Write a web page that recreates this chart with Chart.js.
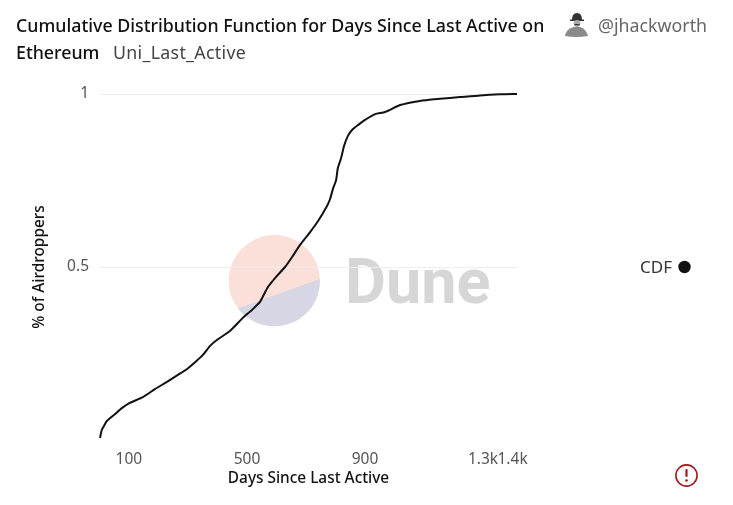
<!DOCTYPE html>
<html>
<head>
<meta charset="utf-8">
<title>CDF</title>
<script src="https://cdn.jsdelivr.net/npm/chart.js@4"></script>
<style>
    body { margin: 0; background: #fff; font-family: "Noto Sans", sans-serif; }
    #wrap { position: relative; width: 733px; height: 505px; overflow: hidden; }
    #wrap > * { position: absolute; }
    #watermark { left: 0; top: 0; }
    #chart { left: 0; top: 0; }
    .title { font-size: 17.8px; line-height: 20px; font-weight: 500; color: #111; white-space: nowrap; }
    .sub { font-size: 17.8px; line-height: 20px; color: #444; white-space: nowrap; }
</style>
</head>
<body>
<div id="wrap">
    <svg id="watermark" width="733" height="505">
        <defs>
            <clipPath id="logo"><circle cx="274.3" cy="280.7" r="45.6"></circle></clipPath>
        </defs>
        <g clip-path="url(#logo)">
            <rect x="225" y="230" width="100" height="100" fill="#fbdfd9"></rect>
            <polygon points="225,313 320,279 330,279 330,330 225,330" fill="#d6d6e5"></polygon>
        </g>
        <text x="345" y="303" font-family="Roboto, sans-serif" font-weight="700" font-size="63" fill="#d6d6d6">Dune</text>
        <!-- avatar -->
        <path d="M572 20 Q572 13 577 13 Q582 13 582 20 Z" fill="#333"></path>
        <rect x="570" y="19.5" width="14" height="1.5" fill="#333"></rect>
        <circle cx="577" cy="23.5" r="3.4" fill="#aaa"></circle>
        <rect x="574.5" y="24" width="5" height="1.2" fill="#333"></rect>
        <path d="M565 36 Q566 29 574 27 L580 27 Q586 29 588 36 Q576 38 565 36 Z" fill="#8a8a8a"></path>
        <!-- warning icon -->
        <circle cx="686.5" cy="475.5" r="10.6" fill="none" stroke="#a11a1a" stroke-width="1.6"></circle>
        <rect x="685.4" y="469" width="2.2" height="8" rx="1" fill="#a11a1a"></rect>
        <circle cx="686.5" cy="480.5" r="1.3" fill="#a11a1a"></circle>
        <circle cx="684.5" cy="267" r="6.2" fill="#111"></circle>
    </svg>
    <canvas id="chart" width="733" height="505"></canvas>
    <div class="title" style="left:16px;top:15px">Cumulative Distribution Function for Days Since Last Active on</div>
    <div class="title" style="left:16px;top:42px">Ethereum</div>
    <div class="sub" style="left:113px;top:42px;letter-spacing:0.3px">Uni_Last_Active</div>
    <div class="sub" style="left:598px;top:15px;color:#666">@jhackworth</div>
    <div class="sub" style="left:640px;top:257px;font-size:17px;color:#333">CDF</div>
</div>
<script>
    const days = [2, 8, 15, 25, 53, 76, 103, 147, 188, 229, 266, 297, 324, 351, 375, 398, 442, 486, 517, 544, 571, 598, 629, 653, 680, 714, 741, 768, 781, 792, 802, 808, 819, 829, 842, 856, 876, 900, 934, 968, 1019, 1086, 1154, 1222, 1290, 1358, 1415];
    const cdf = [0.006, 0.029, 0.04, 0.055, 0.075, 0.092, 0.107, 0.124, 0.147, 0.168, 0.188, 0.205, 0.225, 0.246, 0.272, 0.289, 0.315, 0.353, 0.376, 0.399, 0.442, 0.471, 0.5, 0.529, 0.564, 0.601, 0.633, 0.671, 0.695, 0.728, 0.751, 0.786, 0.815, 0.85, 0.879, 0.896, 0.91, 0.925, 0.942, 0.948, 0.968, 0.98, 0.986, 0.991, 0.996, 0.999, 1];
    const xTicks = [100, 500, 900, 1300, 1400];
    const xTickLabels = ['100', '500', '900', '1.3k', '1.4k'];
    const yTicks = [0.5, 1];

    const tickFont = { family: '"Noto Sans", sans-serif', size: 15.5 };
    const axisTitleFont = { family: '"Noto Sans", sans-serif', size: 15.4, weight: '500' };

    new Chart(document.getElementById('chart'), {
        type: 'line',
        data: {
            datasets: [{
                label: 'CDF',
                data: days.map((d, i) => ({ x: d, y: cdf[i] })),
                borderColor: '#111',
                borderWidth: 2,
                pointRadius: 0,
                tension: 0.2,
                clip: false
            }]
        },
        options: {
            responsive: false,
            animation: false,
            layout: { padding: { top: 94, right: 216, left: 0, bottom: 0 } },
            plugins: { legend: { display: false }, tooltip: { enabled: false } },
            scales: {
                x: {
                    type: 'linear',
                    min: 2,
                    max: 1415,
                    afterFit: s => { s.height = 65; },
                    afterBuildTicks: s => { s.ticks = xTicks.map(v => ({ value: v })); },
                    grid: { display: false },
                    border: { display: false },
                    ticks: {
                        autoSkip: false,
                        maxRotation: 0,
                        color: '#555',
                        font: tickFont,
                        padding: 2,
                        callback: v => xTickLabels[xTicks.indexOf(v)]
                    },
                    title: { display: true, text: 'Days Since Last Active', color: '#111', font: axisTitleFont, padding: { top: 0, bottom: 17 } }
                },
                y: {
                    min: 0,
                    max: 1,
                    afterFit: s => { s.width = 100; },
                    afterBuildTicks: s => { s.ticks = yTicks.map(v => ({ value: v })); },
                    grid: { color: '#eeeeee', drawTicks: false },
                    border: { display: false },
                    ticks: { color: '#555', font: tickFont, padding: 11, callback: v => String(v) },
                    title: { display: true, text: '% of Airdroppers', color: '#111', font: axisTitleFont, padding: { top: 30, bottom: 0 } }
                }
            }
        }
    });
</script>
</body>
</html>
